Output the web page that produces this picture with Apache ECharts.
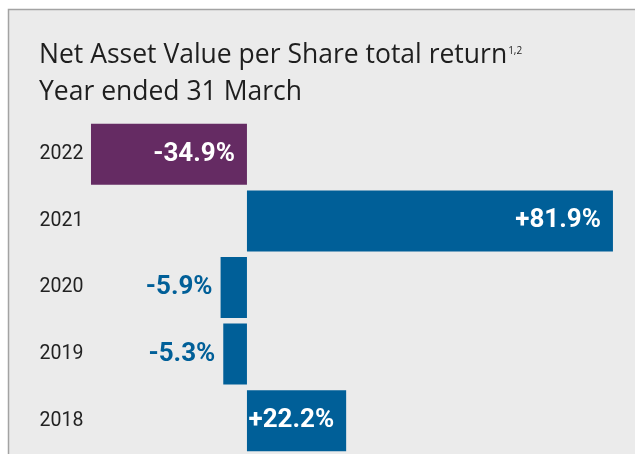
<!DOCTYPE html>
<html>
<head>
<meta charset="utf-8">
<script src="https://cdn.jsdelivr.net/npm/echarts@6/dist/echarts.min.js"></script>
<style>
  html, body { margin: 0; padding: 0; background: #fff; }
  #chart { width: 635px; height: 454px; }
</style>
</head>
<body>
<div id="chart"></div>
<script>
// years, newest first
const years = ['2022', '2021', '2020', '2019', '2018'];
// NAV per share total return, %
const returns = [-34.9, 81.9, -5.9, -5.3, 22.2];

const PURPLE = '#652b63';
const BLUE = '#005f98';

const fmt = v => (v > 0 ? '+' : '') + v.toFixed(1) + '%';

const seriesData = returns.map((v, i) => {
  // small bars get the label outside, in blue
  const small = Math.abs(v) < 10;
  return {
    value: v,
    itemStyle: { color: i === 0 ? PURPLE : BLUE },
    label: small
      ? { position: 'left', distance: 8, color: BLUE }
      : { position: 'insideRight', distance: 12, color: '#fff' }
  };
});

const chart = echarts.init(document.getElementById('chart'));

const option = {
  backgroundColor: '#fff',
  animation: false,
  graphic: [
    {
      type: 'rect',
      z: -10,
      shape: { x: 8.5, y: 9.5, width: 700, height: 500 },
      style: { fill: '#ebebeb', stroke: '#a3a3a3', lineWidth: 1.5 }
    }
  ],
  title: {
    left: 39,
    top: 37,
    padding: 0,
    text: '{t|Net Asset Value per Share total return}{s|1,2}\n{t|Year ended 31 March}',
    textStyle: {
      fontWeight: 'normal',
      rich: {
        t: {
          fontFamily: "'Open Sans', sans-serif",
          fontWeight: 'normal',
          fontSize: 26.5,
          lineHeight: 37,
          color: '#1e1e1e'
        },
        s: {
          fontFamily: "'Open Sans', sans-serif",
          fontWeight: 'normal',
          fontSize: 10,
          lineHeight: 12,
          verticalAlign: 'top',
          padding: [9, 0, 0, 1],
          color: '#1e1e1e'
        }
      }
    }
  },
  grid: {
    left: 68.2,
    top: 121,
    width: 558.6,
    height: 338.3
  },
  xAxis: {
    type: 'value',
    min: -40,
    max: 85,
    show: false,
    splitLine: { show: false }
  },
  yAxis: {
    type: 'category',
    data: years,
    inverse: true,
    axisLine: { show: false, onZero: false },
    axisTick: { show: false },
    axisLabel: {
      align: 'left',
      margin: 28.7,
      fontFamily: 'Roboto, sans-serif',
      fontSize: 19.5,
      color: '#222',
      padding: [4, 0, 0, 0]
    }
  },
  series: [
    {
      type: 'bar',
      data: seriesData,
      barWidth: 61,
      label: {
        show: true,
        formatter: p => fmt(p.value),
        fontFamily: 'Roboto, sans-serif',
        fontWeight: 'bold',
        fontSize: 26,
        padding: [2, 0, 0, 0]
      }
    }
  ]
};

chart.setOption(option);
</script>
</body>
</html>
